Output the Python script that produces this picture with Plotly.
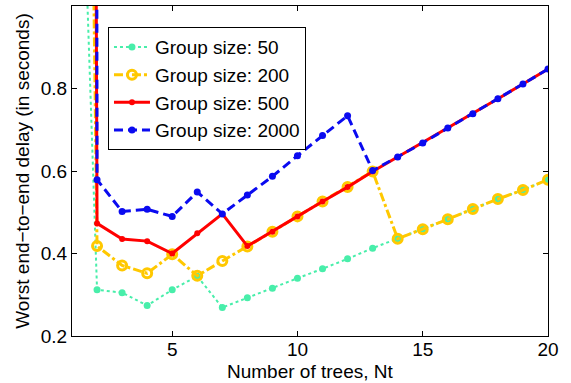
import plotly.graph_objects as go

x = list(range(1, 21))
names = ["Group size: 50", "Group size: 200", "Group size: 500", "Group size: 2000"]

g50 = [2.12, 0.312, 0.305, 0.274, 0.312, 0.345, 0.269, 0.293, 0.316, 0.340,
       0.363, 0.387, 0.413, 0.436, 0.459, 0.483, 0.508, 0.532, 0.554, 0.579]
g200 = [5.2, 0.418, 0.371, 0.352, 0.398, 0.346, 0.382, 0.417, 0.453, 0.490,
        0.526, 0.561, 0.599, 0.436, 0.459, 0.483, 0.508, 0.532, 0.554, 0.579]
g500 = [17.5, 0.473, 0.435, 0.430, 0.400, 0.449, 0.496, 0.418, 0.453, 0.490,
        0.526, 0.561, 0.599, 0.634, 0.668, 0.704, 0.739, 0.775, 0.811, 0.847]
g2000 = [60.0, 0.579, 0.502, 0.507, 0.490, 0.549, 0.496, 0.542, 0.587, 0.637,
         0.686, 0.734, 0.601, 0.634, 0.668, 0.704, 0.739, 0.775, 0.811, 0.847]

xticks = [5, 10, 15, 20]
yticks = [0.2, 0.4, 0.6, 0.8, 1.0]
yticktext = ["0.2", "0.4", "0.6", "0.8", "1"]

FS = 19

fig = go.Figure()
fig.add_trace(go.Scatter(x=x, y=g50, name=names[0], mode="lines+markers",
                         line=dict(color="#48EEAA", width=2, dash="dot"),
                         marker=dict(symbol="circle", size=7, color="#48EEAA")))
fig.add_trace(go.Scatter(x=x, y=g200, name=names[1], mode="lines+markers",
                         line=dict(color="#FFC800", width=3, dash="dashdot"),
                         marker=dict(symbol="circle-open", size=9, color="#FFC800",
                                     line=dict(width=3, color="#FFC800"))))
fig.add_trace(go.Scatter(x=x, y=g500, name=names[2], mode="lines+markers",
                         line=dict(color="#FF0000", width=3),
                         marker=dict(symbol="circle", size=6, color="#FF0000")))
fig.add_trace(go.Scatter(x=x, y=g2000, name=names[3], mode="lines+markers",
                         line=dict(color="#0A0AF0", width=3, dash="9px,5px"),
                         marker=dict(symbol="circle", size=7, color="#0A0AF0")))

axis_common = dict(showline=True, linecolor="black", linewidth=1, mirror="ticks",
                   ticks="inside", ticklen=5, tickcolor="black", showgrid=False,
                   zeroline=False, tickfont=dict(size=FS, color="black"))

fig.update_xaxes(range=[1, 20], tickvals=xticks, ticklabelstandoff=-4, **axis_common)
fig.update_yaxes(range=[0.2, 1.0], tickvals=yticks, ticktext=yticktext, **axis_common,
                 title=dict(text="Worst end\u2212to\u2212end delay (in seconds)",
                            font=dict(size=FS, color="black"), standoff=6))

fig.add_annotation(text="Number of trees, Nt", xref="paper", yref="paper",
                   x=0.5, y=-0.1424, xanchor="center", yanchor="bottom",
                   showarrow=False, borderpad=0, font=dict(size=FS, color="black"))

fig.update_layout(
    width=571, height=383,
    margin=dict(l=72, r=23, t=6, b=47, autoexpand=False),
    paper_bgcolor="white", plot_bgcolor="white",
    font=dict(family="Liberation Sans, Arial, sans-serif", size=FS, color="black"),
    legend=dict(x=0.0756, y=0.936, xanchor="left", yanchor="top",
                bgcolor="white", bordercolor="black", borderwidth=1,
                font=dict(size=FS), tracegroupgap=0, itemwidth=36),
    showlegend=True,
)

fig.write_html("out.html")
